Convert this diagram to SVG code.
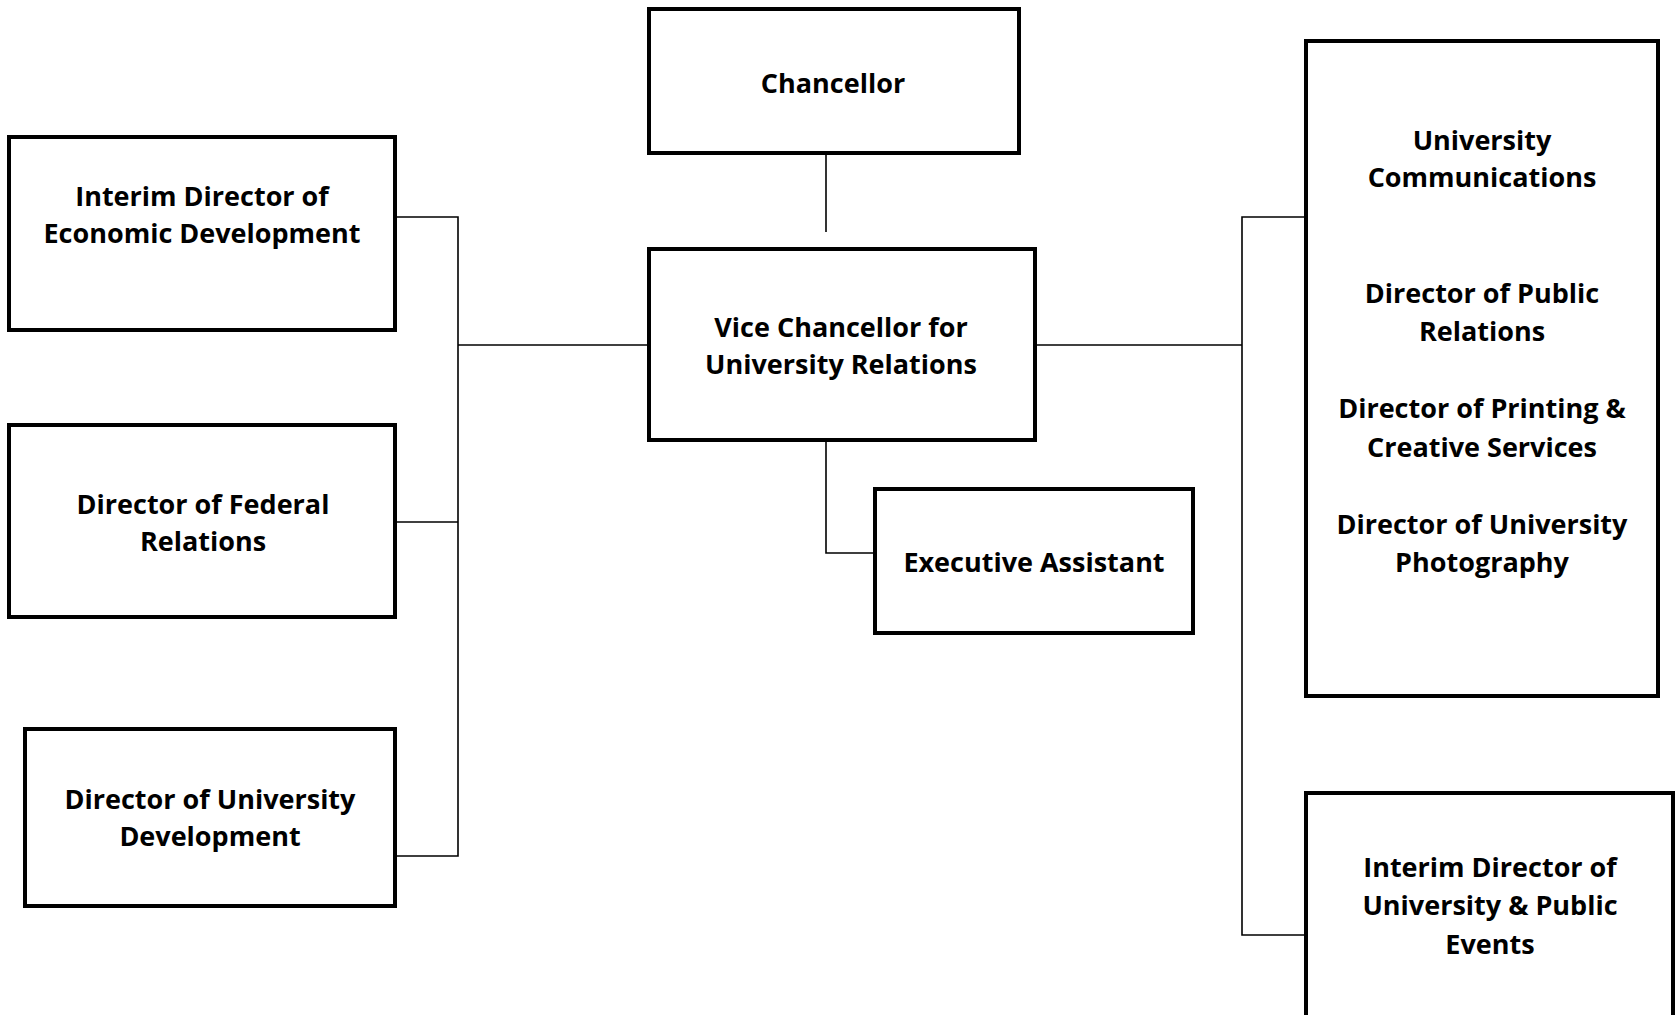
<svg xmlns="http://www.w3.org/2000/svg" width="1676" height="1015" viewBox="0 0 1676 1015">
<style>
.box{fill:#fff;stroke:#000;stroke-width:4}
.t{font-family:"Open Sans","Liberation Sans",sans-serif;font-weight:700;font-size:27px;fill:#000;text-anchor:middle}
.c{fill:none;stroke:#000;stroke-width:1.6}
</style>
<rect width="1676" height="1015" fill="#fff"/>
<g id="connectors">
<line class="c" x1="826" y1="155" x2="826" y2="232"/>
<polyline class="c" points="397,217 458,217 458,856 397,856"/>
<line class="c" x1="397" y1="522" x2="458" y2="522"/>
<line class="c" x1="458" y1="345" x2="647" y2="345"/>
<line class="c" x1="1035" y1="345" x2="1242" y2="345"/>
<polyline class="c" points="1304,217 1242,217 1242,935 1304,935"/>
<polyline class="c" points="826,442 826,553 873,553"/>
</g>
<g id="chancellor">
<rect class="box" x="649" y="9" width="370" height="144"/>
<text class="t" x="833" y="93">Chancellor</text>
</g>
<g id="vice-chancellor">
<rect class="box" x="649" y="249" width="386" height="191"/>
<text class="t" x="841" y="337">Vice Chancellor for</text>
<text class="t" x="841" y="374">University Relations</text>
</g>
<g id="executive-assistant">
<rect class="box" x="875" y="489" width="318" height="144"/>
<text class="t" x="1034" y="572">Executive Assistant</text>
</g>
<g id="economic-development">
<rect class="box" x="9" y="137" width="386" height="193"/>
<text class="t" x="202" y="206">Interim Director of</text>
<text class="t" x="202" y="243">Economic Development</text>
</g>
<g id="federal-relations">
<rect class="box" x="9" y="425" width="386" height="192"/>
<text class="t" x="203" y="514">Director of Federal</text>
<text class="t" x="203" y="551">Relations</text>
</g>
<g id="university-development">
<rect class="box" x="25" y="729" width="370" height="177"/>
<text class="t" x="210" y="809">Director of University</text>
<text class="t" x="210" y="846">Development</text>
</g>
<g id="university-communications">
<rect class="box" x="1306" y="41" width="352" height="655"/>
<text class="t" x="1482" y="150">University</text>
<text class="t" x="1482" y="187">Communications</text>
<text class="t" x="1482" y="303">Director of Public</text>
<text class="t" x="1482" y="341">Relations</text>
<text class="t" x="1482" y="418">Director of Printing &amp;</text>
<text class="t" x="1482" y="457">Creative Services</text>
<text class="t" x="1482" y="534">Director of University</text>
<text class="t" x="1482" y="572">Photography</text>
</g>
<g id="public-events">
<rect class="box" x="1306" y="793" width="367" height="240"/>
<text class="t" x="1490" y="877">Interim Director of</text>
<text class="t" x="1490" y="915">University &amp; Public</text>
<text class="t" x="1490" y="954">Events</text>
</g>
</svg>
